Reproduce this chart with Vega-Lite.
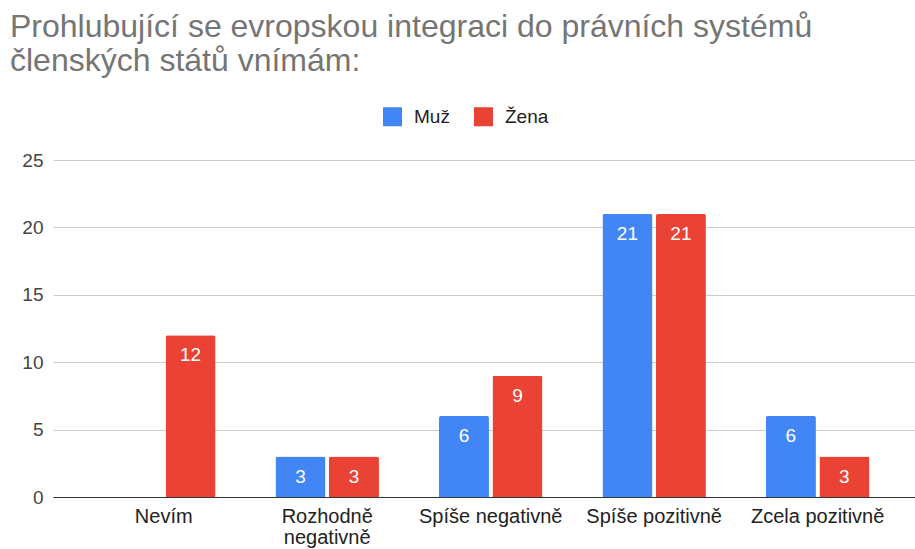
{
  "$schema": "https://vega.github.io/schema/vega-lite/v6.json",
  "width": 862,
  "height": 337,
  "autosize": {"type": "none"},
  "padding": {"left": 53, "top": 160, "right": 0, "bottom": 52},
  "background": "white",
  "title": {
    "text": ["Prohlubující se evropskou integraci do právních systémů", "členských států vnímám:"],
    "anchor": "start",
    "frame": "group",
    "dx": -43,
    "offset": 29,
    "font": "Liberation Sans",
    "fontSize": 32,
    "fontWeight": "normal",
    "color": "#757575",
    "lineHeight": 34
  },
  "config": {
    "view": {"stroke": null},
    "font": "Liberation Sans"
  },
  "data": {
    "values": [
      {"kategorie": "Nevím", "pohlavi": "Muž", "pocet": 0},
      {"kategorie": "Nevím", "pohlavi": "Žena", "pocet": 12},
      {"kategorie": "Rozhodně negativně", "pohlavi": "Muž", "pocet": 3},
      {"kategorie": "Rozhodně negativně", "pohlavi": "Žena", "pocet": 3},
      {"kategorie": "Spíše negativně", "pohlavi": "Muž", "pocet": 6},
      {"kategorie": "Spíše negativně", "pohlavi": "Žena", "pocet": 9},
      {"kategorie": "Spíše pozitivně", "pohlavi": "Muž", "pocet": 21},
      {"kategorie": "Spíše pozitivně", "pohlavi": "Žena", "pocet": 21},
      {"kategorie": "Zcela pozitivně", "pohlavi": "Muž", "pocet": 6},
      {"kategorie": "Zcela pozitivně", "pohlavi": "Žena", "pocet": 3}
    ]
  },
  "encoding": {
    "x": {
      "field": "kategorie",
      "type": "nominal",
      "sort": ["Nevím", "Rozhodně negativně", "Spíše negativně", "Spíše pozitivně", "Zcela pozitivně"],
      "scale": {"paddingInner": 0.367, "paddingOuter": 0.32, "align": 0.564},
      "axis": {
        "title": null,
        "labelAngle": 0,
        "labelFont": "Liberation Sans",
        "labelFontSize": 20,
        "labelColor": "#222222",
        "labelPadding": 9,
        "labelLineHeight": 21,
        "labelExpr": "datum.value == 'Rozhodně negativně' ? ['Rozhodně', 'negativně'] : datum.value",
        "ticks": false,
        "domain": true,
        "domainColor": "#333333",
        "domainWidth": 1,
        "grid": false
      }
    },
    "xOffset": {
      "field": "pohlavi",
      "type": "nominal",
      "sort": ["Muž", "Žena"],
      "scale": {"paddingInner": 0.065}
    },
    "y": {
      "field": "pocet",
      "type": "quantitative",
      "scale": {"domain": [0, 25], "nice": false},
      "axis": {
        "title": null,
        "values": [0, 5, 10, 15, 20, 25],
        "labelFont": "Liberation Sans",
        "labelFontSize": 19,
        "labelColor": "#444444",
        "labelPadding": 10,
        "ticks": false,
        "domain": false,
        "grid": true,
        "gridColor": "#cccccc",
        "gridWidth": 1
      }
    }
  },
  "layer": [
    {
      "mark": {"type": "bar", "cornerRadiusTopLeft": 2, "cornerRadiusTopRight": 2},
      "encoding": {
        "color": {
          "field": "pohlavi",
          "type": "nominal",
          "scale": {"domain": ["Muž", "Žena"], "range": ["#4285F4", "#EA4335"]},
          "legend": {
            "orient": "none",
            "legendX": 330,
            "legendY": -53,
            "direction": "horizontal",
            "title": null,
            "padding": 0,
            "symbolType": "square",
            "symbolSize": 361,
            "symbolStrokeWidth": 0,
            "symbolOpacity": 1,
            "labelFont": "Liberation Sans",
            "labelFontSize": 19,
            "labelColor": "#222222",
            "labelOffset": 12,
            "columnPadding": 24
          }
        }
      }
    },
    {
      "transform": [{"filter": "datum.pocet > 0"}],
      "mark": {"type": "text", "baseline": "middle", "dy": 20, "color": "white", "font": "Liberation Sans", "fontSize": 19},
      "encoding": {
        "text": {"field": "pocet", "type": "quantitative"}
      }
    }
  ]
}
